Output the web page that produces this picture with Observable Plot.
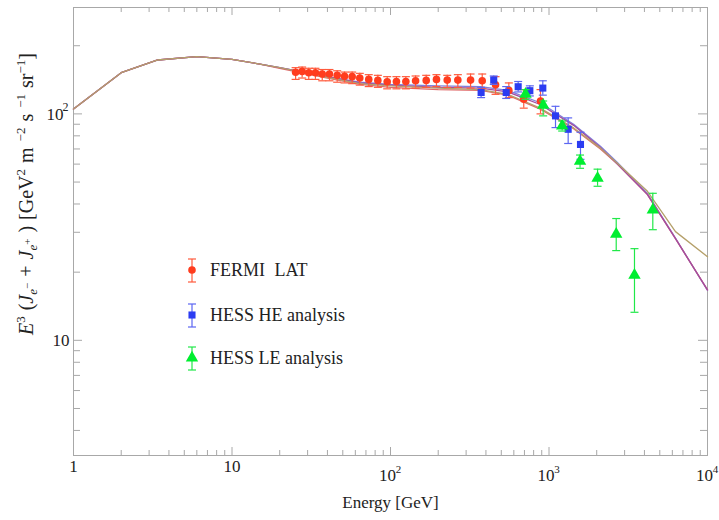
<!DOCTYPE html>
<html><head><meta charset="utf-8">
<script src="https://cdn.jsdelivr.net/npm/d3@7"></script>
<script src="https://cdn.jsdelivr.net/npm/@observablehq/plot@0.6"></script>
<style>
body{margin:0;background:#fff;}
svg{font-family:"Liberation Serif","Times New Roman",serif;}
</style>
</head><body><div id="chart"></div>
<script>
// ---- model curves ----
const modelE   = [1, 2, 3.4, 6, 10, 15, 20, 40, 64, 100, 200, 370, 550, 880, 1430, 2110, 2700, 4180, 6280, 10000];
const modelOlive  = [105, 152, 173, 179, 174, 166, 160, 145, 136, 133, 130, 128, 122, 106, 86.7, 70.6, 60.5, 45.5, 30.2, 23.4];
const modelPurple = [105, 152, 173, 179, 174, 166, 160, 146, 137, 134, 131, 130, 125, 110, 89, 71, 60, 44, 28.1, 16.7];
const modelBlue   = [105, 152, 173, 179, 174, 166, 160, 146, 138, 135, 133, 132, 127, 112, 90, 72, 61, 44.5, 28.3, 16.6];
const modelRed    = [105, 152, 173, 179, 174, 166, 159, 144, 135, 131, 128, 127, 121, 105, 86, 70, 60, 44, 28.1, 16.7];

// ---- FERMI LAT ----
const fermiE  = [25.2, 27.7, 30.5, 33.6, 37.1, 41.2, 46.1, 51.3, 57.3, 64.0, 72.9, 83.2, 95.3, 109, 125, 144, 168, 195, 228, 266, 320, 379, 460, 558, 693, 884];
const fermiV  = [152.6, 154, 152, 152, 150, 150, 148, 146.5, 146, 144, 142, 140.6, 138.7, 139, 139, 140, 140.6, 142, 141, 141, 141, 140, 134.5, 127, 116, 114];
const fermiLo = [142, 144, 142, 142, 140, 140, 138, 137, 136, 134, 132, 131, 129, 129, 129, 130, 131, 132, 131, 131, 130, 129, 122, 118, 106, 100];
const fermiHi = [160, 161, 159, 159, 157, 157, 155, 153, 153, 151, 149, 148, 146, 146, 146, 147, 148, 149, 148, 149, 150, 150, 146, 137, 128, 128];

// ---- HESS HE analysis ----
const heE  = [373, 448, 537, 639, 757, 914, 1099, 1321, 1580];
const heV  = [124.3, 141, 124.3, 131.8, 126.6, 130, 98, 85.5, 73.3];
const heLo = [118, 135, 117, 125, 120, 121, 87, 74, 63];
const heHi = [131, 147, 132, 139, 133, 140, 108, 96, 83];

// ---- HESS LE analysis ----
const leE  = [711, 919, 1211, 1570, 2025, 2655, 3462, 4518];
const leV  = [122.3, 109.3, 88.4, 61.8, 52, 29.4, 19.4, 37.7];
const leLo = [116, 98, 84, 57.5, 47.9, 24.9, 13.3, 30.8];
const leHi = [128, 114, 93, 65.8, 57, 34.5, 25.4, 44.6];

// ---- ticks ----
const xMajor = [1, 10, 100, 1000, 10000];
const xTickBase = ["1", "10", "10", "10", "10"];
const xTickSup  = ["", "", "2", "3", "4"];
const xMinor = [2,3,4,5,6,7,8,9,20,30,40,50,60,70,80,90,200,300,400,500,600,700,800,900,2000,3000,4000,5000,6000,7000,8000,9000];
const yMajor = [10, 100];
const yTickBase = ["10", "10"];
const yTickSup  = ["", "2"];
const yMinor = [4,5,6,7,8,9,20,30,40,50,60,70,80,90,200];

const W = 719, H = 520;
const mL = 73, mR = 12, mT = 7, mB = 65;
const fH = H - mT - mB, fW = W - mL - mR;

const rows = (E, V) => E.map((e, i) => ({E: e, v: V[i]}));
const pts = (E, V, Lo, Hi) => E.map((e, i) => ({E: e, v: V[i], lo: Lo[i], hi: Hi[i]}));
const fermi = pts(fermiE, fermiV, fermiLo, fermiHi);
const he = pts(heE, heV, heLo, heHi);
const le = pts(leE, leV, leLo, leHi);

const cap = {draw(ctx, size) { const r = Math.sqrt(size / Math.PI); ctx.moveTo(-r, 0); ctx.lineTo(r, 0); }};

const C = {
  red: "#ff3c1e", redBar: "#ff5a3c",
  blue: "#2b3cf2", blueBar: "#5c66f2",
  green: "#00ee30", greenBar: "#20e848",
  olive: "#b5a06a", purple: "#a24ca0", mBlue: "#8080dc", mRed: "#e06a6a",
  axis: "#a8a8a8"
};

function errMarks(data, barColor) {
  return [
    Plot.ruleX(data, {x: "E", y1: "lo", y2: "hi", stroke: barColor, strokeWidth: 1.2}),
    Plot.dot(data, {x: "E", y: "lo", symbol: cap, r: 4, fill: "none", stroke: barColor, strokeWidth: 1.2}),
    Plot.dot(data, {x: "E", y: "hi", symbol: cap, r: 4, fill: "none", stroke: barColor, strokeWidth: 1.2})
  ];
}

const plot = Plot.plot({
  width: W, height: H,
  marginLeft: mL, marginRight: mR, marginTop: mT, marginBottom: mB,
  style: {background: "#fff", fontFamily: '"Liberation Serif","Times New Roman",serif'},
  x: {type: "log", domain: [1, 1e4], axis: null},
  y: {type: "log", domain: [3.1, 295], axis: null},
  marks: [
    Plot.frame({stroke: C.axis}),
    // ticks (inward, all four sides)
    Plot.tickX(xMajor, {x: d => d, insetTop: fH - 8, stroke: C.axis}),
    Plot.tickX(xMinor, {x: d => d, insetTop: fH - 5, stroke: C.axis}),
    Plot.tickX(xMajor, {x: d => d, insetBottom: fH - 8, stroke: C.axis}),
    Plot.tickX(xMinor, {x: d => d, insetBottom: fH - 5, stroke: C.axis}),
    Plot.tickY(yMajor, {y: d => d, insetRight: fW - 9, stroke: C.axis}),
    Plot.tickY(yMinor, {y: d => d, insetRight: fW - 7, stroke: C.axis}),
    Plot.tickY(yMajor, {y: d => d, insetLeft: fW - 9, stroke: C.axis}),
    Plot.tickY(yMinor, {y: d => d, insetLeft: fW - 7, stroke: C.axis}),
    // x tick labels
    Plot.text(xMajor, {x: d => d, text: (d, i) => xTickBase[i], filter: (d, i) => xTickSup[i] === "",
      frameAnchor: "bottom", dy: 16, fontSize: 17, fill: "#222"}),
    Plot.text(xMajor, {x: d => d, text: (d, i) => xTickBase[i], filter: (d, i) => xTickSup[i] !== "",
      frameAnchor: "bottom", dy: 25, dx: -3, fontSize: 17, fill: "#222"}),
    Plot.text(xMajor, {x: d => d, text: (d, i) => xTickSup[i], filter: (d, i) => xTickSup[i] !== "",
      frameAnchor: "bottom", dy: 17, dx: 8, fontSize: 11, fill: "#222"}),
    // y tick labels
    Plot.text(yMajor, {y: d => d, text: (d, i) => yTickBase[i], filter: (d, i) => yTickSup[i] === "",
      frameAnchor: "left", dx: -4, textAnchor: "end", fontSize: 17, fill: "#222"}),
    Plot.text(yMajor, {y: d => d, text: (d, i) => yTickBase[i], filter: (d, i) => yTickSup[i] !== "",
      frameAnchor: "left", dx: -10, dy: 1, textAnchor: "end", fontSize: 17, fill: "#222"}),
    Plot.text(yMajor, {y: d => d, text: (d, i) => yTickSup[i], filter: (d, i) => yTickSup[i] !== "",
      frameAnchor: "left", dx: -5, dy: -7, textAnchor: "end", fontSize: 12, fill: "#222"}),
    // x axis title
    Plot.text(["Energy [GeV]"], {text: d => d, frameAnchor: "bottom", dy: 52, fontSize: 17, fill: "#222"}),
    // model curves
    Plot.line(rows(modelE, modelBlue), {x: "E", y: "v", stroke: C.mBlue, strokeWidth: 1.3}),
    Plot.line(rows(modelE, modelRed), {x: "E", y: "v", stroke: C.mRed, strokeWidth: 1.3}),
    Plot.line(rows(modelE, modelPurple), {x: "E", y: "v", stroke: C.purple, strokeWidth: 1.3}),
    Plot.line(rows(modelE, modelOlive), {x: "E", y: "v", stroke: C.olive, strokeWidth: 1.3}),
    // data
    ...errMarks(fermi, C.redBar),
    Plot.dot(fermi, {x: "E", y: "v", symbol: "circle", r: 3.8, fill: C.red}),
    ...errMarks(he, C.blueBar),
    Plot.dot(he, {x: "E", y: "v", symbol: "square", r: 4, fill: C.blue}),
    ...errMarks(le, C.greenBar),
    Plot.dot(le, {x: "E", y: "v", symbol: "triangle", r: 4.6, fill: C.green})
  ]
});
document.getElementById("chart").appendChild(plot);

// ---- y axis title with sub/superscripts ----
const svg = d3.select(plot);
const yl = svg.append("text")
  .attr("transform", "translate(33,194) rotate(-90)")
  .attr("text-anchor", "middle").attr("font-size", 20).attr("fill", "#222")
  .attr("word-spacing", 1)
  .style("white-space", "pre");
const parts = [
  ["E", {it: 1}], ["3", {fs: 13, dy: -8}], [" (", {dy: 8}], ["J", {it: 1}],
  ["e", {it: 1, fs: 13, dy: 4}], ["\u2212", {fs: 11, dy: -6}], [" + ", {dy: 2}], ["J", {it: 1}],
  ["e", {it: 1, fs: 13, dy: 4}], ["+", {fs: 11, dy: -6}], [" ) [GeV", {dy: 2}], ["2", {fs: 13, dy: -8}],
  [" m ", {dy: 8}], ["\u22122", {fs: 13, dy: -8}], [" s ", {dy: 8}], ["\u22121", {fs: 13, dy: -8}],
  [" sr", {dy: 8}], ["\u22121", {fs: 13, dy: -8}], ["]", {dy: 8}]
];
for (const [t, o] of parts) {
  const ts = yl.append("tspan").text(t);
  if (o.it) ts.attr("font-style", "italic");
  if (o.fs) ts.attr("font-size", o.fs);
  if (o.dy) ts.attr("dy", o.dy);
}

// ---- legend ----
const legendItems = [
  {label: "FERMI LAT", fill: C.red, bar: C.redBar, sym: d3.symbolCircle, r: 3.8, y: 270},
  {label: "HESS HE analysis", fill: C.blue, bar: C.blueBar, sym: d3.symbolSquare, r: 4, y: 315},
  {label: "HESS LE analysis", fill: C.green, bar: C.greenBar, sym: d3.symbolTriangle, r: 4.6, y: 358}
];
const lg = svg.append("g");
for (const it of legendItems) {
  const g = lg.append("g").attr("transform", `translate(192,${it.y})`);
  g.append("line").attr("x1", 0).attr("x2", 0).attr("y1", -11).attr("y2", 12).attr("stroke", it.bar).attr("stroke-width", 1.2);
  g.append("line").attr("x1", -4).attr("x2", 4).attr("y1", -11).attr("y2", -11).attr("stroke", it.bar).attr("stroke-width", 1.2);
  g.append("line").attr("x1", -4).attr("x2", 4).attr("y1", 12).attr("y2", 12).attr("stroke", it.bar).attr("stroke-width", 1.2);
  g.append("path").attr("d", d3.symbol().type(it.sym).size(Math.PI * it.r * it.r)()).attr("fill", it.fill);
  g.append("text").attr("x", 18).attr("y", 6).attr("font-size", 18).attr("fill", "#222")
    .attr("text-anchor", "start")
    .attr("word-spacing", it.label === "FERMI LAT" ? 5 : 0).text(it.label);
}
</script>
</body></html>
